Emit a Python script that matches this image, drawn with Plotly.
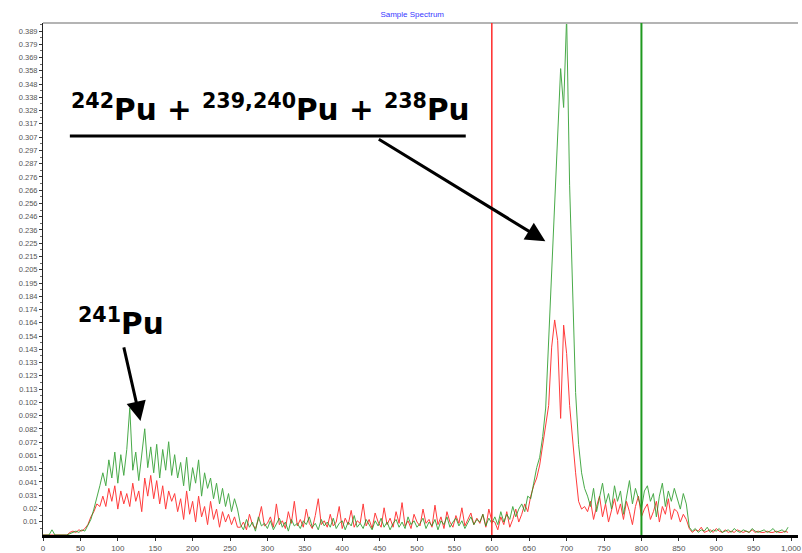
import plotly.graph_objects as go

# ---------------- data (values in units of 0.001) ----------------
channels = list(range(0, 1000, 4))

green_a = [0, 0, 0, 4, 0, 0, 0, 0, 0, 1, 2, 3, 2, 4, 3, 7, 12, 20, 28, 38]
green_b = [48, 38, 58, 44, 64, 40, 62, 46, 66, 98, 50, 64, 42, 60, 82, 52, 68, 48, 70, 44,
           66, 50, 72, 46, 62, 44]
green_c = [56, 38, 60, 34, 52, 40, 58, 30, 48, 36, 44, 28, 40, 24, 36, 22, 32, 18, 28, 20]
green_d = [8, 4, 12, 6, 10, 3, 14, 7, 9, 5,
           11, 4, 8, 13, 6, 10, 3, 12, 7, 9,
           5, 11, 8, 14, 6, 9, 4, 12, 7, 10,
           6, 13, 5, 9, 11, 4, 10, 7, 15, 6,
           9, 5, 12, 8, 4, 11, 7, 13, 6, 10,
           4, 9, 12, 6, 10, 5, 14, 8, 11, 6,
           9, 13, 5, 10, 7, 12, 4, 11, 8, 14,
           6, 10, 13, 7, 11, 5, 9, 14, 8, 12,
           10, 16, 7, 13, 9]
green_e = [14, 8, 18, 10, 16, 12, 22, 14, 20, 24, 18, 30, 28, 40, 52]
green_f = [60, 76, 98, 150, 200, 255, 300, 360, 330, 400, 270, 185, 110, 70, 48, 36]
green_g = [30, 22, 36, 18, 28, 40, 24, 32, 20, 38,
           26, 34, 16, 30, 42, 24, 36, 28, 20, 34,
           38, 26, 32, 14, 30, 40, 22, 34, 26, 36,
           28, 20, 32, 24]
green_h = [6, 3, 5, 2, 4, 3, 6, 2, 4, 3,
           5, 2, 3, 4, 2, 5, 3, 2, 4, 3,
           2, 5, 3, 2, 3, 4, 2, 3, 5, 2,
           3, 4, 2, 6]

red_a = [0, 0, 0, 0, 0, 0, 0, 0, 0, 2, 3, 2, 4, 3, 5, 8, 14, 18, 24, 22]
red_b = [30, 22, 36, 26, 38, 20, 34, 24, 32, 22, 40, 26, 34, 18, 44, 30, 46, 28, 42, 24,
         38, 20, 34, 26, 32, 18]
red_c = [28, 12, 34, 16, 26, 10, 30, 14, 22, 8, 26, 12, 20, 6, 18, 10, 16, 8, 14, 6]
red_d = [6, 10, 4, 16, 8, 5, 12, 22, 7, 9,
         14, 6, 24, 8, 11, 5, 18, 9, 26, 7,
         12, 6, 20, 9, 5, 15, 28, 8, 11, 6,
         16, 7, 10, 22, 5, 13, 8, 19, 6, 11,
         9, 24, 7, 12, 5, 17, 10, 6, 21, 8,
         13, 6, 18, 9, 25, 7, 11, 5, 16, 10,
         7, 20, 9, 12, 6, 23, 8, 14, 5, 18,
         10, 6, 15, 9, 21, 7, 12, 17, 8, 13,
         9, 16, 6, 20, 11]
red_e = [10, 4, 14, 8, 18, 6, 12, 20, 10, 16, 24, 18, 30, 38, 44]
red_f = [54, 70, 86, 100, 145, 166, 150, 90, 162, 140, 100, 72, 48, 26, 20, 22]
red_g = [18, 26, 12, 22, 30, 14, 24, 10, 20, 28,
         16, 24, 12, 26, 18, 8, 22, 30, 14, 20,
         24, 12, 18, 26, 10, 22, 16, 28, 12, 20,
         18, 10, 16, 12]
red_h = [5, 2, 4, 3, 6, 2, 3, 4, 2, 5,
         3, 2, 4, 2, 3, 2, 4, 3, 2, 3,
         2, 4, 2, 3, 2, 2, 3, 2, 2, 3,
         2, 2, 3, 2]

green_milli = green_a + green_b + green_c + green_d + green_e + green_f + green_g + green_h
red_milli = red_a + red_b + red_c + red_d + red_e + red_f + red_g + red_h
green_vals = [v / 1000 for v in green_milli]
red_vals = [v / 1000 for v in red_milli]

x_tick_vals = list(range(0, 1001, 50))
x_tick_text = ["0", "50", "100", "150", "200", "250", "300", "350", "400", "450", "500",
               "550", "600", "650", "700", "750", "800", "850", "900", "950", "1,000"]

Y_STEP = 0.389 / 38
y_tick_text = ["0.01", "0.02", "0.031", "0.041", "0.051", "0.061", "0.072", "0.082", "0.092",
               "0.102", "0.113", "0.123", "0.133", "0.143", "0.154", "0.164", "0.174", "0.184",
               "0.195", "0.205", "0.215", "0.225", "0.236", "0.246", "0.256", "0.266", "0.276",
               "0.287", "0.297", "0.307", "0.317", "0.328", "0.338", "0.348", "0.358", "0.369",
               "0.379", "0.389"]
y_tick_vals = [Y_STEP * (i + 1) for i in range(len(y_tick_text))]

ROI_LEFT = 600
ROI_RIGHT = 800

# ---------------- figure ----------------
W, H = 802, 553
ML, MR, MT, MB = 43, 0, 23, 14
PW, PH = W - ML - MR, H - MT - MB


def px(xp):
    return (xp - ML) / PW


def py(yp):
    return (H - MB - yp) / PH


fig = go.Figure()
fig.add_trace(go.Scatter(x=channels, y=red_vals, mode="lines",
                         line=dict(color="#ff1a1a", width=1), opacity=0.85,
                         showlegend=False, hoverinfo="skip"))
fig.add_trace(go.Scatter(x=channels, y=green_vals, mode="lines",
                         line=dict(color="#1c961c", width=1), opacity=0.8,
                         showlegend=False, hoverinfo="skip"))

small = dict(family="Liberation Sans, Arial, sans-serif", size=8, color="#555555")
big = dict(family="DejaVu Sans, sans-serif", size=29.5, color="black")

fig.update_layout(
    width=W, height=H,
    margin=dict(l=ML, r=MR, t=MT, b=MB),
    paper_bgcolor="white", plot_bgcolor="white",
    title=dict(text="Sample Spectrum", x=0.514, xref="container", xanchor="center",
               y=1 - 14 / H, yref="container", yanchor="middle",
               font=dict(family="Liberation Sans, Arial, sans-serif", size=8, color="#3838ff")),
    xaxis=dict(range=[0, 1000 * PW / 752], tickmode="array", tickvals=x_tick_vals,
               ticktext=x_tick_text, showgrid=False, zeroline=False,
               showline=True, linewidth=3, linecolor="black",
               ticks="outside", ticklen=3, tickcolor="#333", tickfont=small,
               ticklabeloverflow="allow"),
    yaxis=dict(range=[0, 0.3952], tickmode="array", tickvals=y_tick_vals,
               ticktext=y_tick_text, showgrid=False, zeroline=False,
               showline=True, linewidth=1, linecolor="#222",
               ticks="outside", ticklen=3, tickcolor="#333",
               tickfont=dict(family="Liberation Sans, Arial, sans-serif", size=7.5, color="#555555"),
               minor=dict(tickmode="linear", tick0=Y_STEP / 2, dtick=Y_STEP,
                          ticks="outside", ticklen=2, tickcolor="#666")),
    shapes=[
        dict(type="line", xref="paper", yref="paper", x0=0, x1=1, y0=1, y1=1,
             line=dict(color="#b4b4b4", width=2)),
        dict(type="line", xref="x", yref="paper", x0=ROI_LEFT, x1=ROI_LEFT, y0=0, y1=1,
             line=dict(color="#ff2a2a", width=1.5), layer="above"),
        dict(type="line", xref="x", yref="paper", x0=ROI_RIGHT, x1=ROI_RIGHT, y0=0, y1=1,
             line=dict(color="#1f991f", width=2), layer="above"),
        dict(type="line", xref="paper", yref="paper", x0=px(70), x1=px(468),
             y0=py(137), y1=py(137), line=dict(color="black", width=3)),
    ],
    annotations=[
        dict(text="<b><sup>242</sup>Pu + <sup>239,240</sup>Pu + <sup>238</sup>Pu</b>",
             xref="paper", yref="paper", x=px(69), y=py(130), xanchor="left",
             yanchor="bottom", showarrow=False, font=big),
        dict(text="<b><sup>241</sup>Pu</b>",
             xref="paper", yref="paper", x=px(76), y=py(346), xanchor="left",
             yanchor="bottom", showarrow=False, font=big),
        dict(text="", xref="paper", yref="paper", x=px(548), y=py(243),
             ax=380 - 548, ay=140 - 243, showarrow=True, arrowhead=2,
             arrowsize=1.3, arrowwidth=3, arrowcolor="black", standoff=0),
        dict(text="", xref="paper", yref="paper", x=px(141), y=py(424),
             ax=124 - 141, ay=349 - 424, showarrow=True, arrowhead=2,
             arrowsize=1.3, arrowwidth=3, arrowcolor="black", standoff=0),
    ],
)

fig.write_html("out.html")
